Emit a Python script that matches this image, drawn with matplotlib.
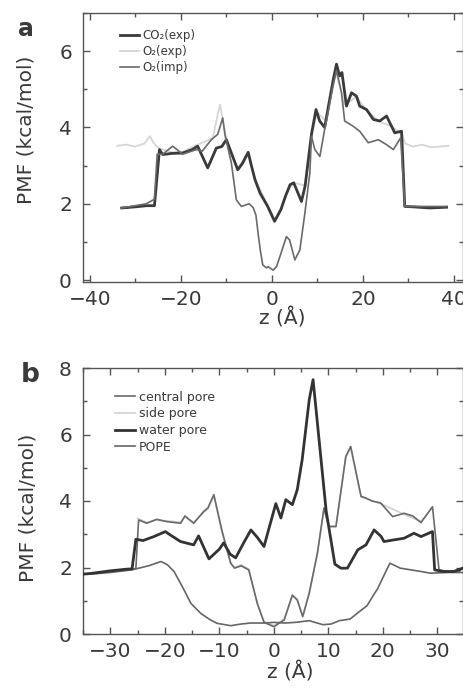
import matplotlib
matplotlib.use("Agg")
import matplotlib.pyplot as plt
from matplotlib.ticker import MultipleLocator

plt.rcParams['font.family'] = ['DejaVu Sans']
plt.rcParams['text.color'] = '#3a3a3a'
plt.rcParams['axes.labelcolor'] = '#3a3a3a'
plt.rcParams['xtick.color'] = '#555555'
plt.rcParams['ytick.color'] = '#555555'
plt.rcParams['xtick.labelcolor'] = '#3a3a3a'
plt.rcParams['ytick.labelcolor'] = '#3a3a3a'

# ---- panel a data ----
z_co2 = [-33, -30, -27.5, -25.8, -24.7, -24, -22, -19.6, -17.5, -16.3, -14.1, -12.2, -11, -10,
         -8.9, -7.5, -6.5, -5.2, -4.5, -3.7, -2.6, -1, 0.6, 2, 3, 4, 4.8, 5.5, 6.5, 7.3, 8.7,
         9.7, 10.5, 11.6, 12.5, 13.5, 14.2, 14.9, 15.4, 16.4, 17.5, 18.6, 19.3, 20.8, 22.3,
         23.7, 25.2, 27, 28.5, 29.2, 31, 34.7, 38.4]
pmf_co2 = [1.89, 1.92, 1.95, 1.95, 3.42, 3.29, 3.32, 3.33, 3.42, 3.51, 2.94, 3.46, 3.5, 3.68,
           3.33, 2.89, 3.05, 3.35, 3.0, 2.63, 2.28, 1.95, 1.54, 1.85, 2.2, 2.5, 2.55, 2.35, 2.06,
           2.46, 3.82, 4.47, 4.17, 4.0, 4.6, 5.26, 5.66, 5.35, 5.44, 4.56, 4.91, 4.82, 4.56,
           4.47, 4.21, 4.17, 4.3, 3.86, 3.9, 1.93, 1.92, 1.89, 1.91]

z_o2exp = [-34, -32, -30, -28, -26.8, -26, -25.3, -24.7, -22, -19.6, -16.3, -13, -11.4, -10,
           -8.9, -7.5, -5.2, -3.7, -1, 0.6, 2, 3, 4.8, 7.3, 8.7, 10, 12, 14, 16, 18.6, 20.8,
           23.7, 26, 28.5, 29.3, 31, 33, 35, 38.8]
pmf_o2exp = [3.52, 3.55, 3.5, 3.58, 3.77, 3.6, 3.5, 3.45, 3.35, 3.36, 3.55, 3.72, 4.6, 3.7,
             3.35, 2.92, 3.33, 2.66, 1.97, 1.58, 1.9, 2.25, 2.55, 2.48, 3.8, 4.4, 4.15, 5.5,
             4.6, 4.8, 4.45, 4.15, 4.05, 3.85, 3.58, 3.5, 3.55, 3.48, 3.52]

z_o2imp = [-33, -30, -27.6, -25.8, -25.2, -24, -21.8, -19.6, -16.6, -15.3, -13.3, -11.9,
           -10.8, -10.3, -8.9, -7.8, -6.7, -5, -4.1, -3.5, -3, -2.5, -2, -1.2, -0.8, 0.3, 1,
           1.75, 3.2, 3.9, 5.05, 6.15, 7.25, 8.35, 8.7, 9.45, 10.55, 11.6, 12.4, 13.3, 14.2,
           15.3, 16, 17.9, 19.3, 21.2, 23.4, 25.2, 26.7, 28.3, 29.2, 31, 34.7, 38.4]
pmf_o2imp = [1.89, 1.95, 2.0, 2.12, 3.3, 3.3, 3.51, 3.3, 3.42, 3.38, 3.68, 3.82, 4.25, 3.8,
             3.07, 2.1, 1.93, 2.0, 1.9, 1.7, 1.2, 0.75, 0.4, 0.32, 0.35, 0.26, 0.35, 0.61,
             1.14, 1.05, 0.53, 0.79, 1.75, 2.81, 3.77, 3.42, 3.24, 3.95, 4.43, 5.0, 5.5, 4.91,
             4.17, 4.03, 3.9, 3.6, 3.68, 3.55, 3.42, 3.73, 1.93, 1.93, 1.93, 1.93]

# ---- panel b data ----
z_cen = [-35, -33.6, -30, -27, -26, -25.3, -24.8, -23.3, -21.5, -19.6, -17.1, -16.3, -14.7,
         -12.9, -12.1, -11.0, -9.5, -7.9, -7.2, -6, -4.6, -3, -1.8, 0, 1.9, 3.4, 4.3, 5.3,
         6.5, 8.0, 9.2, 10.1, 11.4, 13.2, 14.1, 16.0, 16.9, 18, 19.6, 21.8, 23.9, 25.5, 27.0,
         29.1, 30.3, 32, 34, 34.7]
pmf_cen = [1.8, 1.82, 1.88, 1.92, 1.95, 1.97, 3.43, 3.33, 3.45, 3.38, 3.33, 3.55, 3.33, 3.68,
           3.79, 4.19, 3.1, 2.13, 1.98, 2.05, 1.93, 0.9, 0.35, 0.22, 0.42, 1.17, 1.02, 0.52,
           1.23, 2.43, 3.79, 3.23, 3.23, 5.34, 5.64, 4.14, 4.09, 4.0, 3.94, 3.53, 3.63, 3.55,
           3.35, 3.83, 1.93, 1.88, 1.88, 2.0]

z_side = [-25, -23.3, -21.5, -19.6, -17.1, -16.3, -14.7, -12.9, -12.1, -11.0, -9.5, -7.9,
          -7.2, -6, -4.6, -3, -1.8, 0, 1.9, 3.4, 4.3, 5.3, 6.5, 8.0, 9.2, 10.1, 11.4, 13.2,
          14.1, 16.0, 19.6, 23.9, 27.0, 29.1]
pmf_side = [3.48, 3.36, 3.42, 3.4, 3.36, 3.52, 3.36, 3.65, 3.76, 4.15, 3.05, 2.1, 2.0, 2.08,
            1.95, 0.92, 0.38, 0.25, 0.45, 1.15, 1.05, 0.55, 1.25, 2.45, 3.75, 3.25, 3.25,
            5.3, 5.6, 4.12, 3.92, 3.6, 3.38, 3.8]

z_water = [-35, -33.6, -30, -27, -26, -25.3, -24, -22, -19.9, -19, -17.1, -14.7, -13.8,
           -11.9, -10, -9.2, -8, -7.0, -5.5, -4.2, -3, -1.8, -0.8, 0.37, 1.3, 2.2, 3.4, 4.3,
           5.2, 6.5, 7.2, 9.6, 11.2, 12.3, 13.5, 15.4, 16.9, 18.4, 19.7, 20.2, 22, 23.9, 25.7,
           27, 29.1, 29.5, 31, 33, 34.7]
pmf_water = [1.8, 1.82, 1.9, 1.95, 1.96, 2.85, 2.81, 2.93, 3.08, 2.98, 2.78, 2.68, 2.95,
             2.26, 2.55, 2.74, 2.4, 2.29, 2.75, 3.13, 2.9, 2.63, 3.23, 3.92, 3.49, 4.04, 3.89,
             4.34, 5.24, 7.05, 7.65, 3.7, 2.1, 1.98, 1.98, 2.53, 2.68, 3.13, 2.93, 2.78, 2.83,
             2.88, 3.03, 2.93, 3.08, 1.93, 1.88, 1.88, 1.98]

z_pope = [-35, -33.6, -30, -26, -23, -20.7, -19.5, -18.3, -16.8, -15.2, -13.4, -11.6, -10.4,
          -7.9, -6, -4.3, -1.8, 0, 2, 4, 6.5, 9, 10.5, 12, 14, 15.5, 17.1, 18.2, 19, 20.4,
          21.3, 23.2, 27, 28.7, 32, 34.7]
pmf_pope = [1.8, 1.8, 1.85, 1.93, 2.05, 2.18, 2.08, 1.88, 1.43, 0.92, 0.62, 0.42, 0.32, 0.25,
            0.3, 0.33, 0.33, 0.35, 0.33, 0.35, 0.4, 0.28, 0.3, 0.4, 0.45, 0.65, 0.85, 1.15,
            1.35, 1.83, 2.13, 1.98, 1.88, 1.83, 1.85, 1.85]

fig = plt.figure(figsize=(4.64, 6.89), dpi=100)
ax1 = fig.add_axes([83/464, 1-282/689, 380/464, 269/689])
ax2 = fig.add_axes([83/464, 1-634/689, 380/464, 266/689])

ax1.plot(z_o2exp, pmf_o2exp, color='#d6d6d6', lw=1.3, label='O₂(exp)', zorder=1)
ax1.plot(z_co2, pmf_co2, color='#3a3a3a', lw=2.0, label='CO₂(exp)', zorder=2)
ax1.plot(z_o2imp, pmf_o2imp, color='#6a6a6a', lw=1.2, label='O₂(imp)', zorder=3)
h, l = ax1.get_legend_handles_labels()
order = [1, 0, 2]
ax1.legend([h[i] for i in order], [l[i] for i in order], loc='upper left',
           bbox_to_anchor=(0.097, 0.94), frameon=False, fontsize=8.5, borderpad=0,
           borderaxespad=0, handlelength=1.6, handletextpad=0.3, labelspacing=0.25)

ax2.plot(z_side, pmf_side, color='#d0d0d0', lw=1.2, label='side pore', zorder=1)
ax2.plot(z_cen, pmf_cen, color='#6a6a6a', lw=1.2, label='central pore', zorder=2)
ax2.plot(z_pope, pmf_pope, color='#666666', lw=1.2, label='POPE', zorder=2)
ax2.plot(z_water, pmf_water, color='#333333', lw=2.0, label='water pore', zorder=3)
h, l = ax2.get_legend_handles_labels()
order = [1, 0, 3, 2]
ax2.legend([h[i] for i in order], [l[i] for i in order], loc='upper left',
           bbox_to_anchor=(0.084, 0.915), frameon=False, fontsize=9, borderpad=0,
           borderaxespad=0, handlelength=1.6, handletextpad=0.3, labelspacing=0.3)

ax1.set_xlim(-41.5, 42)
ax1.set_ylim(-0.05, 7.0)
ax1.xaxis.set_major_locator(MultipleLocator(20))
ax1.xaxis.set_minor_locator(MultipleLocator(10))
ax1.yaxis.set_major_locator(MultipleLocator(2))
ax1.yaxis.set_minor_locator(MultipleLocator(1))

ax2.set_xlim(-35, 34.7)
ax2.set_ylim(0, 8)
ax2.xaxis.set_major_locator(MultipleLocator(10))
ax2.xaxis.set_minor_locator(MultipleLocator(5))
ax2.yaxis.set_major_locator(MultipleLocator(2))
ax2.yaxis.set_minor_locator(MultipleLocator(1))

for ax in (ax1, ax2):
    for s in ax.spines.values():
        s.set_color('#555555')
        s.set_linewidth(1.0)
    ax.tick_params(which='both', direction='in', top=True, right=True, labelsize=14.5)
    ax.tick_params(which='major', length=5, width=1)
    ax.tick_params(which='minor', length=3, width=1)
    ax.tick_params(axis='y', pad=8)
    ax.tick_params(axis='x', pad=6)
    ax.set_ylabel('PMF (kcal/mol)', fontsize=14.5)
    ax.set_xlabel('z (Å)', fontsize=14.5)

ax1.yaxis.set_label_coords(-0.126, 0.565)
ax2.yaxis.set_label_coords(-0.121, 0.474)
ax1.xaxis.set_label_coords(0.524, -0.095)
ax2.xaxis.set_label_coords(0.545, -0.105)

fig.text(18/464, 1-17/689, 'a', fontsize=17, fontweight='bold', va='top', ha='left')
fig.text(21/464, 1-362/689, 'b', fontsize=19, fontweight='bold', va='top', ha='left')

fig.savefig('out.png', dpi=100)
plt.close(fig)
